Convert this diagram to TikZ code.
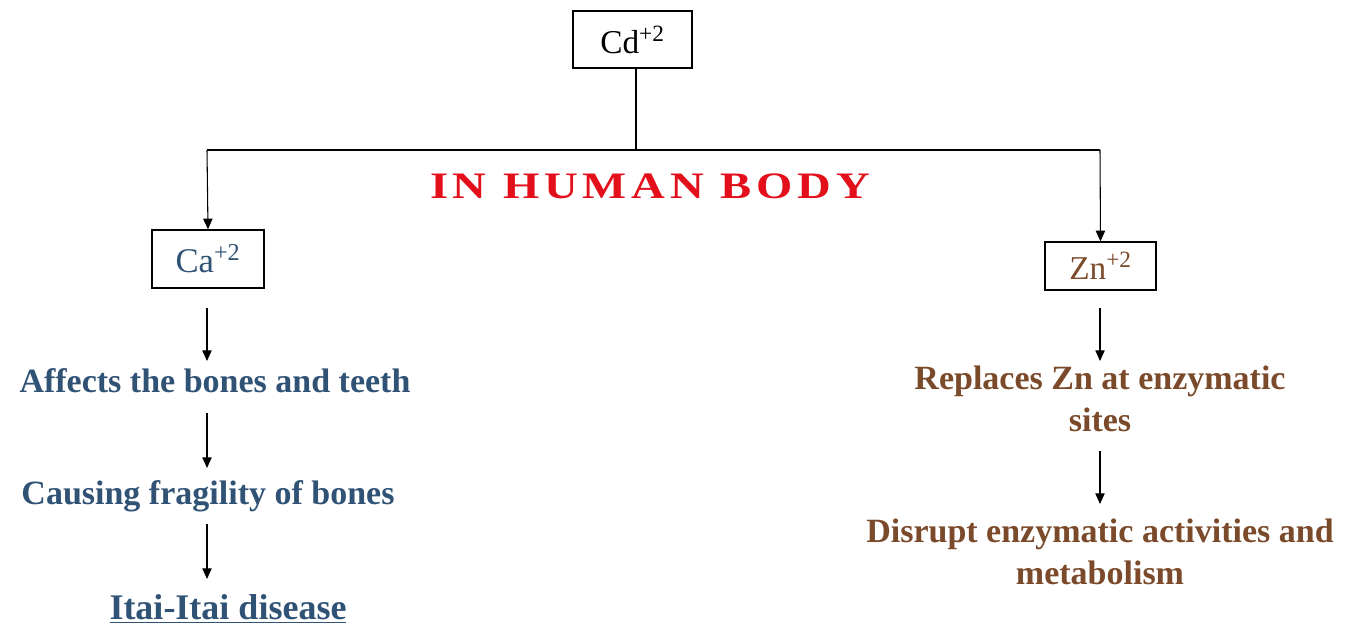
\documentclass[tikz,border=0pt]{standalone}
\usepackage{fontspec}
\setmainfont{Liberation Serif}
\usetikzlibrary{arrows.meta}
\definecolor{cablue}{HTML}{2F5275}
\definecolor{znbrown}{HTML}{7A4A2A}
\definecolor{titlered}{HTML}{E3101C}
\newfontfamily\titlefont[FakeStretch=1.25, LetterSpace=13]{Liberation Serif}
\tikzset{
  conn/.style={draw=black, line width=0.8pt},
  arr/.style={conn, -{Triangle[length=8pt,width=7pt]}},
  btext/.style={font=\fontsize{25.5}{31}\selectfont\bfseries, text=cablue, align=center},
  rtext/.style={font=\fontsize{25.5}{32}\selectfont\bfseries, text=znbrown, align=center},
}
\begin{document}
\begin{tikzpicture}[x=0.75pt,y=-0.75pt]
\useasboundingbox (0,0) rectangle (1349,630);
% top box
\node[draw=black, line width=1.3pt, minimum width=119*0.75pt, minimum height=57*0.75pt, inner sep=0pt,
      font=\fontsize{25}{30}\selectfont] (cd) at (632.5,39.5) {Cd\textsuperscript{+2}};
\coordinate (junc) at (636,150);
\coordinate (jl) at (207,150);
\coordinate (jr) at (1100,150);
\draw[conn] (cd.south -| junc) -- (junc);
\draw[conn] (jl) -- (jr);
% title
\node[font=\titlefont\fontsize{28}{32}\selectfont\bfseries, text=titlered] (title) at (650,186) {IN HUMAN BODY};
% Ca box
\node[draw=black, line width=1pt, minimum width=112*0.75pt, minimum height=58*0.75pt, inner sep=0pt,
      font=\fontsize{26}{28}\selectfont, text=cablue] (ca) at (208,259) {Ca\textsuperscript{+2}};
\draw[arr] (jl) -- (ca.north);
% Zn box
\node[draw=black, line width=1pt, minimum width=111*0.75pt, minimum height=48*0.75pt, inner sep=0pt,
      font=\fontsize{25}{28}\selectfont, text=znbrown] (zn) at (1100.5,266) {Zn\textsuperscript{+2}};
\draw[arr] (jr) -- (zn.north);
% left chain
\node[btext] (a1) at (215,381) {Affects the bones and teeth};
\node[btext] (a2) at (208,496) {Causing fragility of bones};
\node[btext, font=\fontsize{27}{31}\selectfont\bfseries] (a3) at (228,609) {\underline{Itai-Itai disease}};
\coordinate (l1s) at (207,308); \coordinate (l1e) at (207,361);
\coordinate (l2s) at (207,413); \coordinate (l2e) at (207,468);
\coordinate (l3s) at (207,524); \coordinate (l3e) at (207,579);
\draw[arr] (l1s) -- (l1e);
\draw[arr] (l2s) -- (l2e);
\draw[arr] (l3s) -- (l3e);
% right chain
\node[rtext] (b1) at (1100,399) {Replaces Zn at enzymatic\\sites};
\node[rtext] (b2) at (1100,552) {Disrupt enzymatic activities and\\metabolism};
\coordinate (r1s) at (1100,308); \coordinate (r1e) at (1100,361);
\coordinate (r2s) at (1100,451); \coordinate (r2e) at (1100,504);
\draw[arr] (r1s) -- (r1e);
\draw[arr] (r2s) -- (r2e);
\end{tikzpicture}
\end{document}
